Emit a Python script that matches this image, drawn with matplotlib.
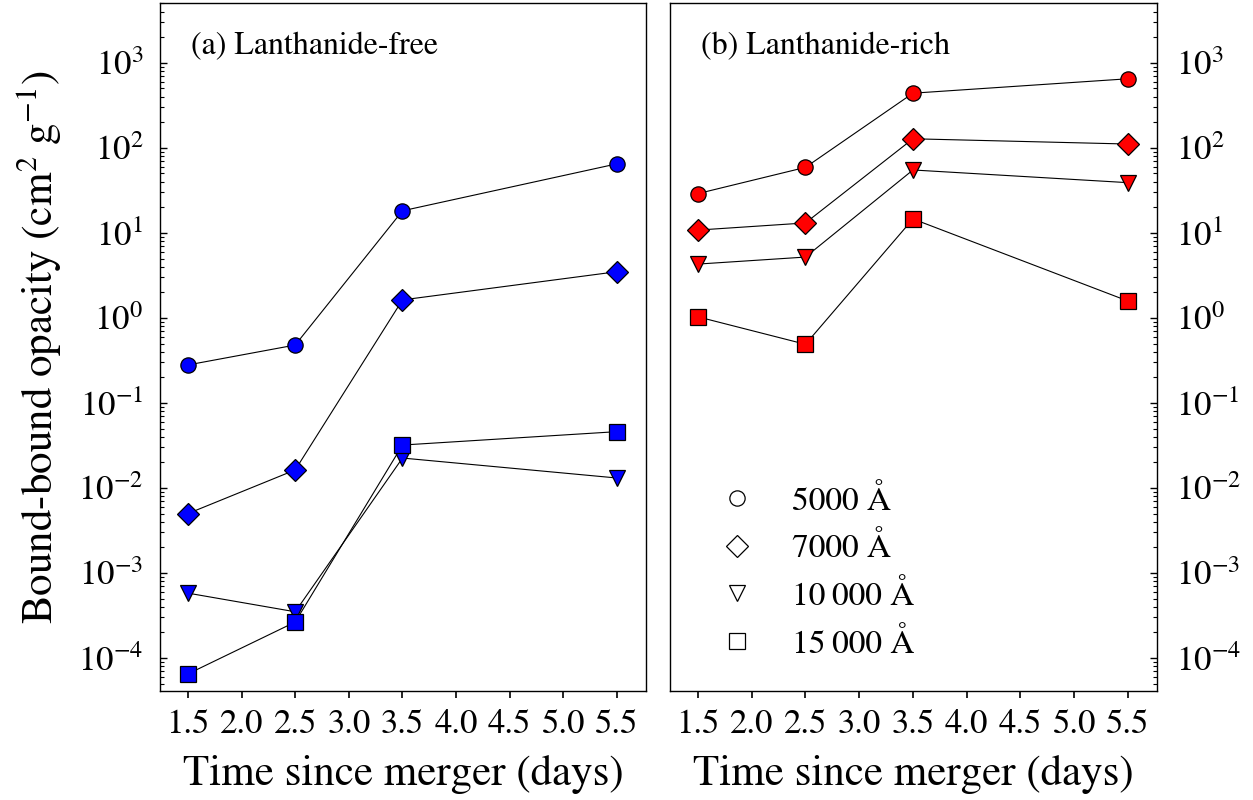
"""Bound-bound opacity vs time since merger, lanthanide-free vs lanthanide-rich."""
import matplotlib
matplotlib.use("Agg")
import matplotlib.pyplot as plt
from matplotlib.lines import Line2D

plt.rcParams.update({
    "font.family": ["STIXGeneral", "DejaVu Serif"],
    "mathtext.fontset": "stix",
    "font.size": 22,
    "axes.linewidth": 1.0,
})

days = [1.5, 2.5, 3.5, 5.5]
wavelength_labels = ["5000 Å", "7000 Å", "10\u2009000 Å", "15\u2009000 Å"]
markers = ["o", "D", "v", "s"]

# lanthanide-free (cm^2 g^-1)
free_5000 = [0.28, 0.48, 18.2, 65.0]
free_7000 = [5.0e-3, 0.0163, 1.63, 3.5]
free_10000 = [5.8e-4, 3.5e-4, 0.0225, 0.0131]
free_15000 = [6.5e-5, 2.65e-4, 0.032, 0.046]

# lanthanide-rich (cm^2 g^-1)
rich_5000 = [29.0, 59.0, 440.0, 650.0]
rich_7000 = [10.8, 13.1, 128.0, 111.0]
rich_10000 = [4.3, 5.2, 55.0, 39.0]
rich_15000 = [1.03, 0.49, 14.6, 1.58]

YLIM = (4.1e-5, 5.0e3)
YTICKS = [1e-4, 1e-3, 1e-2, 1e-1, 1e0, 1e1, 1e2, 1e3]
XLIM = (1.24, 5.77)
XTICKS = [1.5, 2.0, 2.5, 3.0, 3.5, 4.0, 4.5, 5.0, 5.5]


def draw_panel(ax, series, color, title):
    for vals, m in zip(series, markers):
        ax.plot(days, vals, marker=m, color="black", lw=0.8,
                markerfacecolor=color, markeredgecolor="black",
                markeredgewidth=0.9, markersize=11)
    ax.set_yscale("log")
    ax.set_ylim(*YLIM)
    ax.set_yticks(YTICKS)
    ax.set_xlim(*XLIM)
    ax.set_xticks(XTICKS)
    ax.set_xticklabels([f"{t:.1f}" for t in XTICKS])
    ax.tick_params(axis="x", direction="out", length=5, width=1.2, pad=8,
                   labelsize=25)
    ax.tick_params(axis="y", which="major", direction="in", length=5,
                   width=1.0, labelsize=25)
    ax.tick_params(axis="y", which="minor", direction="in", length=3,
                   width=0.8, labelleft=False, labelright=False)
    ax.set_xlabel("Time since merger (days)", fontsize=31, labelpad=10)
    ax.text(0.063, 0.958, title, transform=ax.transAxes, fontsize=23,
            va="top", ha="left")


def main():
    fig = plt.figure(figsize=(12.53, 8), dpi=100)
    ax1 = fig.add_axes([0.1277, 0.1363, 0.3879, 0.8594])
    ax2 = fig.add_axes([0.5347, 0.1363, 0.3887, 0.8594])

    draw_panel(ax1, [free_5000, free_7000, free_10000, free_15000],
               "#0000ff", "(a) Lanthanide-free")
    draw_panel(ax2, [rich_5000, rich_7000, rich_10000, rich_15000],
               "#ff0000", "(b) Lanthanide-rich")

    ax1.set_ylabel(r"Bound-bound opacity (cm$^2$ g$^{-1}$)", fontsize=31,
                   labelpad=10)
    ax1.tick_params(axis="y", which="both", left=True, right=False,
                    pad=12)
    ax2.tick_params(axis="y", which="both", left=False, right=True,
                    labelleft=False, labelright=True, pad=14)

    handles = [Line2D([], [], marker=m, linestyle="none", markersize=11,
                      markerfacecolor="white", markeredgecolor="black",
                      markeredgewidth=0.9) for m in markers]
    ax2.legend(handles, wavelength_labels, loc="lower left",
               bbox_to_anchor=(0.042, 0.002), frameon=False, fontsize=24,
               handlelength=1.0, handletextpad=1.15, labelspacing=0.5)

    fig.savefig("out.png", dpi=100)
    plt.close(fig)


if __name__ == "__main__":
    main()
